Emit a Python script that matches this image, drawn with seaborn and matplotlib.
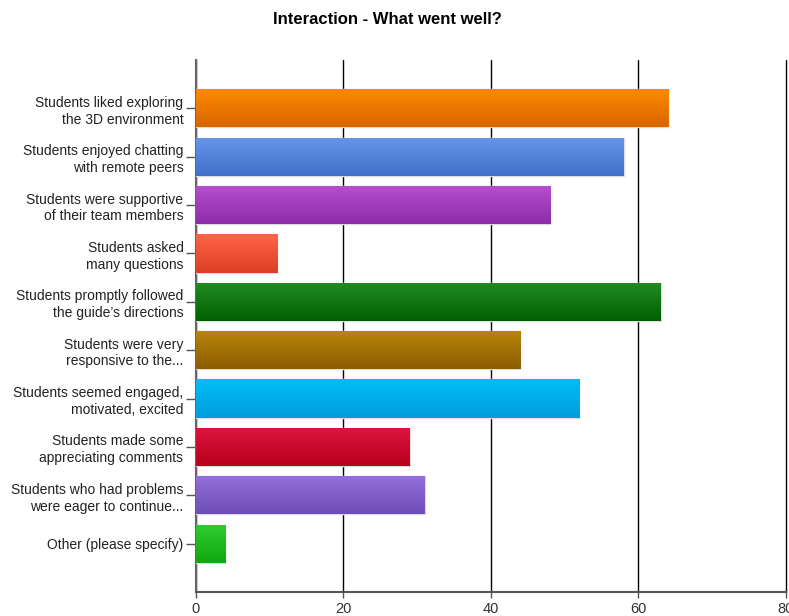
import numpy as np
import pandas as pd
import matplotlib
matplotlib.use("Agg")
import matplotlib.pyplot as plt
import matplotlib.colors as mcolors
import seaborn as sns

categories = [
    "Students liked exploring\nthe 3D environment",
    "Students enjoyed chatting\nwith remote peers",
    "Students were supportive\nof their team members",
    "Students asked\nmany questions",
    "Students promptly followed\nthe guide\u2019s directions",
    "Students were very\nresponsive to the...",
    "Students seemed engaged,\nmotivated, excited",
    "Students made some\nappreciating comments",
    "Students who had problems\nwere eager to continue...",
    "Other (please specify)",
]
values = [64, 58, 48, 11, 63, 44, 52, 29, 31, 4]
top_colors = ["#FF8A00", "#6796EA", "#B64FD0", "#FF6448", "#228B22",
              "#B8860B", "#00BDFA", "#DC1540", "#9470DC", "#30CC30"]
bottom_colors = ["#D86600", "#4070C8", "#8C2CA8", "#DC4024", "#006000",
                 "#8C5C00", "#009CDA", "#B8001C", "#6E4EB6", "#10A810"]
x_ticks = [0, 20, 40, 60, 80]
title = "Interaction - What went well?"

sns.set_theme(style="white")
plt.rcParams["font.family"] = ["Liberation Sans", "DejaVu Sans"]

fig = plt.figure(figsize=(7.89, 6.16), dpi=100)
ax = fig.add_axes([0.2484, 0.039, 0.9962 - 0.2484, 0.9026 - 0.039])

df = pd.DataFrame({"cat": categories, "val": values})
sns.barplot(data=df, x="val", y="cat", orient="h", ax=ax, width=0.79,
            color="white", edgecolor="#dddddd", linewidth=1.0, zorder=3)

ax.set_xlim(0, 80)
ax.set_ylim(10, -1)
ax.set_xticks(x_ticks)
ax.set_xticklabels([str(t) for t in x_ticks], fontsize=10.5, color="#333333")
ax.tick_params(axis="y", labelsize=10, colors="#555555", length=7, width=1,
               left=True, pad=2)
ax.tick_params(axis="y", labelcolor="#222222")
ax.tick_params(axis="x", length=4, width=1, bottom=True, color="#555555", pad=3)
for lbl in ax.get_yticklabels():
    lbl.set_horizontalalignment("right")
    lbl.set_multialignment("right")
    lbl.set_linespacing(1.25)
ax.set_xlabel("")
ax.set_ylabel("")

ax.xaxis.grid(True, color="black", linewidth=1.0, zorder=0)
ax.yaxis.grid(False)
ax.set_axisbelow(True)
for gl in ax.get_xgridlines():
    gl.set_clip_on(False)

for s in ["top", "right"]:
    ax.spines[s].set_visible(False)
ax.spines["left"].set_color("#666666")
ax.spines["left"].set_linewidth(1.5)
ax.spines["bottom"].set_color("#555555")
ax.spines["bottom"].set_linewidth(1.5)

# gradient fills clipped to each bar
for patch, c1, c2 in zip(ax.patches, top_colors, bottom_colors):
    x0, y0 = patch.get_x(), patch.get_y()
    w, h = patch.get_width(), patch.get_height()
    cmap = mcolors.LinearSegmentedColormap.from_list("g", [c1, c2])
    grad = np.linspace(0, 1, 64).reshape(-1, 1)
    im = ax.imshow(grad, cmap=cmap, aspect="auto",
                   extent=[x0, x0 + w, y0 + h, y0], origin="upper",
                   zorder=3.5, interpolation="bilinear")
    im.set_clip_path(patch)

ax.set_xlim(0, 80)
ax.set_ylim(10, -1)

fig.text(0.4905, 0.968, title, ha="center", va="center", fontsize=12,
         fontweight="bold", color="black")

fig.savefig("out.png", dpi=100)
